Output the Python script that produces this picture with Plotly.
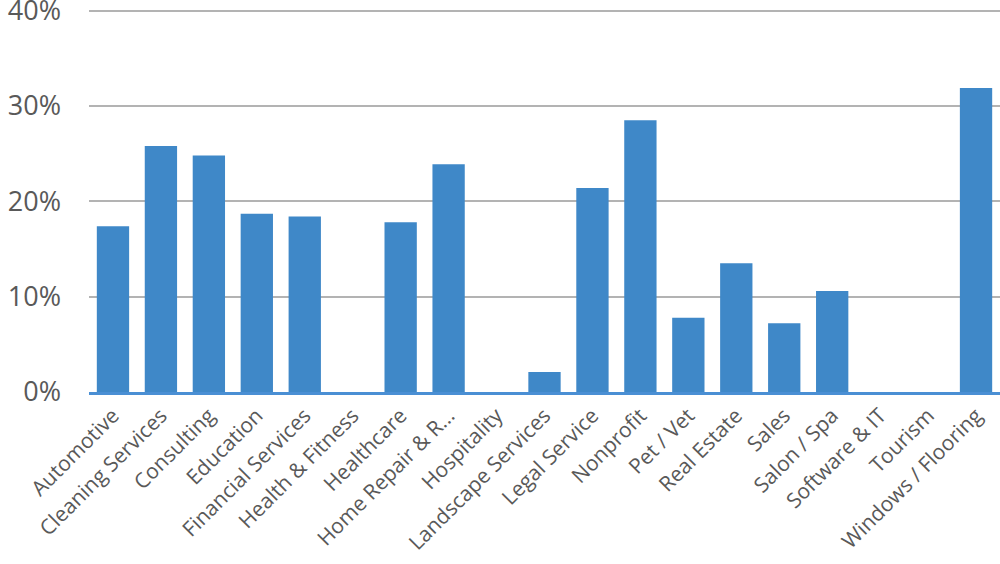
import plotly.graph_objects as go

categories = [
    "Automotive", "Cleaning Services", "Consulting", "Education",
    "Financial Services", "Health & Fitness", "Healthcare", "Home Repair & R...",
    "Hospitality", "Landscape Services", "Legal Service", "Nonprofit",
    "Pet / Vet", "Real Estate", "Sales", "Salon / Spa", "Software & IT",
    "Tourism", "Windows / Flooring",
]
values = [17.4, 25.8, 24.8, 18.7, 18.4, 0, 17.8, 23.9, 0, 2.1, 21.4, 28.5,
          7.8, 13.5, 7.2, 10.6, 0, 0, 31.9]
y_ticks = [0, 10, 20, 30, 40]
y_tick_labels = ["0%", "10%", "20%", "30%", "40%"]

fig = go.Figure(go.Bar(
    x=categories, y=values,
    marker=dict(color="#3f88c8", line=dict(width=0)),
))

fig.update_layout(
    width=1000, height=564,
    margin=dict(l=89, r=0, t=9, b=171.5, pad=0, autoexpand=False),
    paper_bgcolor="white", plot_bgcolor="white",
    bargap=0.326,
    showlegend=False,
    font=dict(family="Open Sans", color="#595959"),
)
fig.update_xaxes(
    automargin=False,
    range=[-0.5, 18.5],
    tickangle=-45,
    tickfont=dict(size=21, color="#595959"),
    showline=True, linecolor="#4a8fd4", linewidth=3,
    ticks="", showgrid=False,
)
fig.update_yaxes(
    automargin=False,
    range=[0, 40.18],
    tickvals=y_ticks, ticktext=y_tick_labels,
    tickfont=dict(size=27, color="#595959"),
    ticklabeloverflow="allow",
    showgrid=True, gridcolor="#b3b3b3", gridwidth=1.5,
    zeroline=False, showline=False, ticks="",
    ticklabelstandoff=27,
)

fig.write_html(
    "out.html",
    config={"displayModeBar": False},
    post_script="document.body.style.margin='0';document.body.style.overflow='hidden';",
)
